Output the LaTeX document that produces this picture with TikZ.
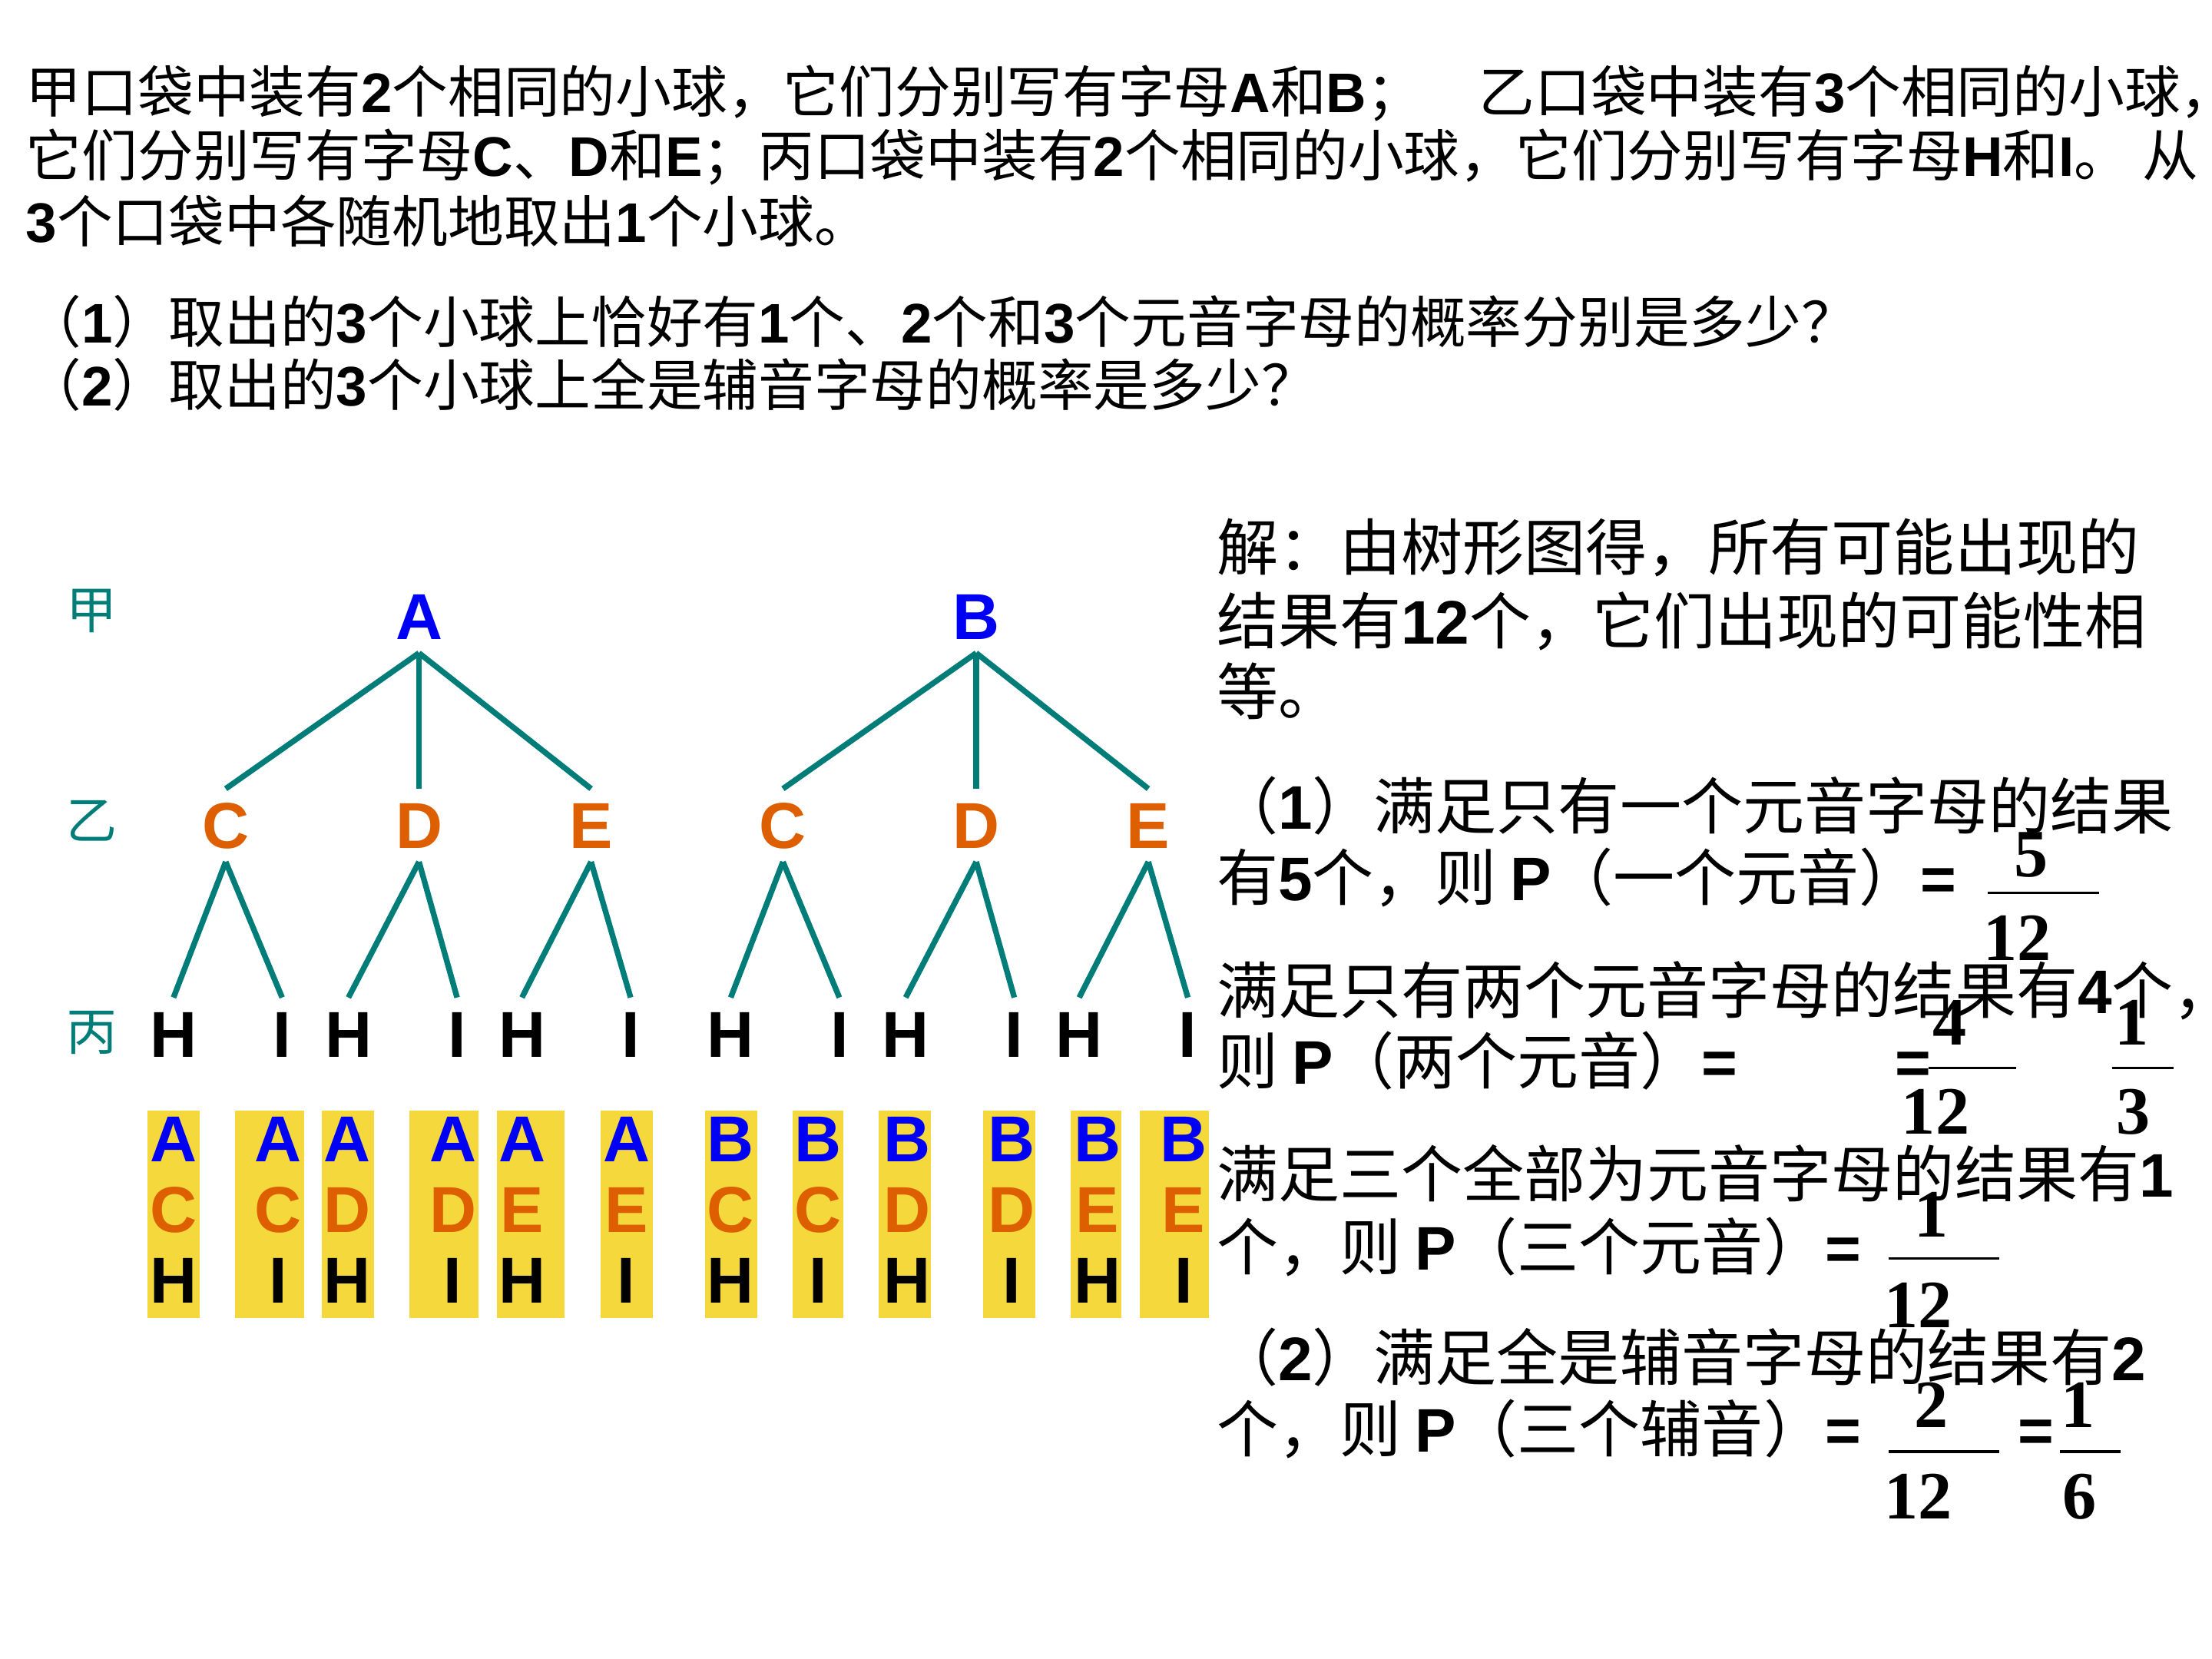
\documentclass[tikz,border=0pt]{standalone}
\usepackage{fontspec}
\setmainfont{Noto Sans CJK SC}
\newfontfamily\latin{Liberation Sans}
\newfontfamily\numfont{Liberation Serif}
\newcommand{\en}[1]{{\latin\bfseries #1}}

\definecolor{treeteal}{RGB}{0,125,120}
\definecolor{ballblue}{RGB}{0,0,245}
\definecolor{ballorange}{RGB}{221,95,0}
\definecolor{ballyellow}{RGB}{244,216,60}

\tikzset{
  body/.style={anchor=base west, inner sep=0pt, font=\fontsize{19.8pt}{24pt}\selectfont},
  sol/.style={anchor=base west, inner sep=0pt, font=\fontsize{21.8pt}{26pt}\selectfont},
  bag/.style={text=treeteal, inner sep=0pt, font=\fontsize{18pt}{18pt}\selectfont},
  ltr/.style={inner xsep=0pt, inner ysep=4.5pt, text height=16.5pt, text depth=0pt,
    font=\latin\bfseries\fontsize{23pt}{23pt}\selectfont},
  branch/.style={treeteal, line width=2pt},
  num/.style={inner sep=0pt, font=\numfont\bfseries\fontsize{24pt}{24pt}\selectfont},
  bar/.style={line width=1pt},
}

\begin{document}
\begin{tikzpicture}[x=0.5pt, y=-0.5pt]

\useasboundingbox[fill=white] (0,0) rectangle (1568,1176);

% Problem statement
\node[body] (q1) at (18,80) {甲口袋中装有\en{2}个相同的小球，它们分别写有字母\en{A}和\en{B}；};
\node[body] (q1b) at (1048,80) {乙口袋中装有\en{3}个相同的小球，};
\node[body] (q2) at (18,125) {它们分别写有字母\en{C}、\en{D}和\en{E}；丙口袋中装有\en{2}个相同的小球，它们分别写有字母\en{H}和\en{I}。 从};
\node[body] (q3) at (18,172) {\en{3}个口袋中各随机地取出\en{1}个小球。};
\node[body] (q4) at (18,243) {（\en{1}）取出的\en{3}个小球上恰好有\en{1}个、\en{2}个和\en{3}个元音字母的概率分别是多少？};
\node[body] (q5) at (18,288) {（\en{2}）取出的\en{3}个小球上全是辅音字母的概率是多少？};

% Pockets
\node[bag] (jia) at (65,433) {甲};
\node[bag] (yi) at (65,582) {乙};
\node[bag] (bing) at (65,732) {丙};

% Tree
\node[ltr, text=ballblue] (A) at (297,437) {A};
\node[ltr, text=ballblue] (B) at (692,437) {B};

\foreach \p/\dx in {A/0,B/395}{
  \foreach \q/\x in {C/160,D/297,E/419}{
    \node[ltr, text=ballorange] (\p\q) at (\x+\dx,585) {\q};
    \draw[branch] (\p.south) -- (\p\q.north);
  }
}

\foreach \p/\dx in {A/0,B/395}{
  \foreach \q/\x in {C/123,D/247,E/370}{
    \node[ltr] (\p\q H) at (\x+\dx,733) {H};
    \node[ltr] (\p\q I) at (\x+77+\dx,733) {I};
    \draw[branch] (\p\q.south) -- (\p\q H.north);
    \draw[branch] (\p\q.south) -- (\p\q I.north);
  }
}

% Outcomes
\foreach \x/\l/\r/\t/\m/\b [count=\i] in {123/104.5/141.5/A/C/H, 197/166.5/215.5/A/C/I,
    246/228/265/A/D/H, 321/290/339/A/D/I, 370/352/400/A/E/H, 444/426/463/A/E/I,
    518/500/537/B/C/H, 580/562/598/B/C/I, 643/623/660/B/D/H, 717/697/734/B/D/I,
    778/759/795/B/E/H, 839/808/857/B/E/I}{
  \fill[ballyellow] (\l,787) rectangle (\r,934);
  \node[ltr, text=ballblue] (top\i) at (\x,807) {\t};
  \node[ltr, text=ballorange] (mid\i) at (\x,857) {\m};
  \node[ltr] (bot\i) at (\x,907) {\b};
}

% Solution
\node[sol] (s1) at (862,404.5) {解：由树形图得，所有可能出现的};
\node[sol] (s2) at (862,456.5) {结果有\en{12}个，它们出现的可能性相};
\node[sol] (s3) at (862,506.5) {等。};
\node[sol] (s4) at (862,587.5) {（\en{1}）满足只有一个元音字母的结果};
\node[sol] (s5) at (862,638.5) {有\en{5}个，则 \en{P}（一个元音）\en{=}};
\node[sol] (s6) at (862,718.5) {满足只有两个元音字母的结果有\en{4}个，};
\node[sol] (s7) at (862,768.5) {则 \en{P}（两个元音）\en{=}};
\node[sol] (s7b) at (1343,768.5) {\en{=}};
\node[sol] (s8) at (862,848.5) {满足三个全部为元音字母的结果有\en{1}};
\node[sol] (s9) at (862,900.5) {个，则 \en{P}（三个元音）\en{=}};
\node[sol] (s10) at (862,978.5) {（\en{2}）满足全是辅音字母的结果有\en{2}};
\node[sol] (s11) at (862,1029.5) {个，则 \en{P}（三个辅音）\en{=}};
\node[sol] (s11b) at (1430,1029.5) {\en{=}};

% Fractions
\node[num] (n1) at (1440,606) {5};
\node[num] (d1) at (1430,665) {12};
\draw[bar] (1409,633) -- (1488,633);

\node[num] (n2) at (1382,725) {4};
\node[num] (d2) at (1372,788) {12};
\draw[bar] (1367,757) -- (1429,757);
\node[num] (n3) at (1511,725) {1};
\node[num] (d3) at (1512,788) {3};
\draw[bar] (1497,757) -- (1541,757);

\node[num] (n4) at (1369,861) {1};
\node[num] (d4) at (1360,925) {12};
\draw[bar] (1339,892) -- (1417,892);

\node[num] (n5) at (1369,996) {2};
\node[num] (d5) at (1360,1061) {12};
\draw[bar] (1339,1029) -- (1417,1029);
\node[num] (n6) at (1473,996) {1};
\node[num] (d6) at (1474,1061) {6};
\draw[bar] (1460,1029) -- (1503,1029);

\end{tikzpicture}
\end{document}
